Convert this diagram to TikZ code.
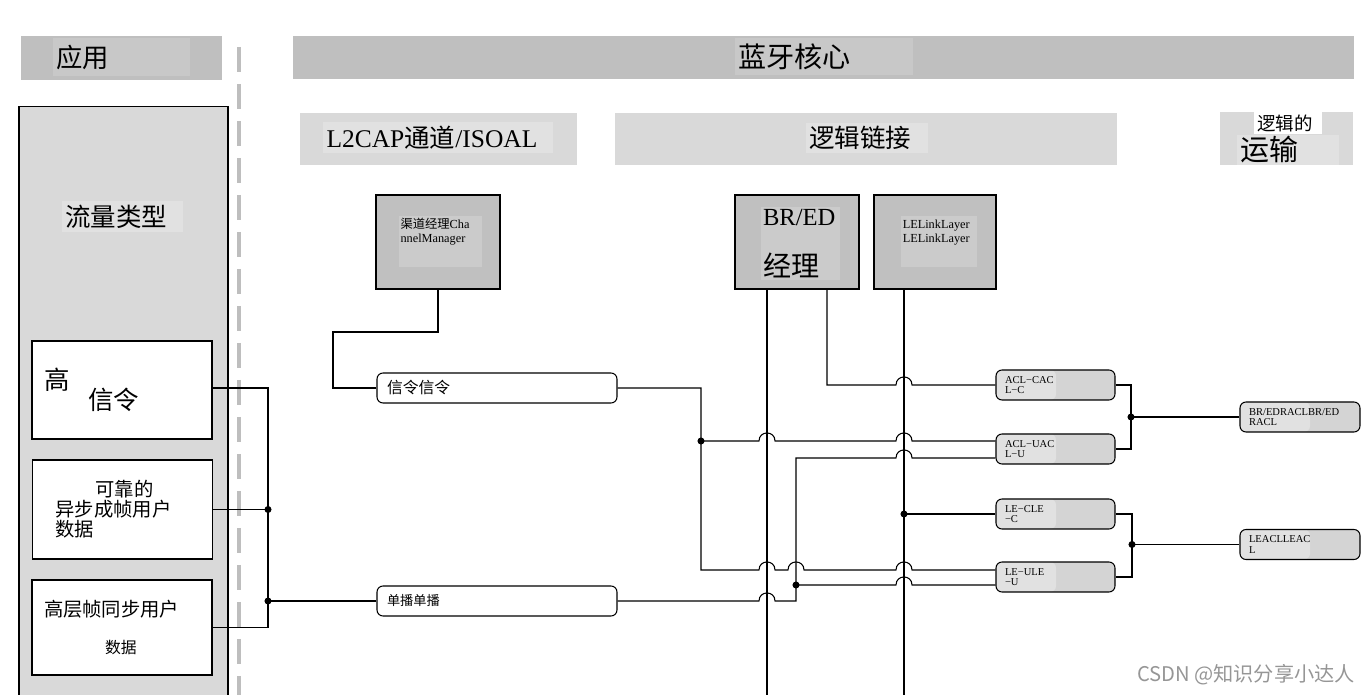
\documentclass[tikz,border=0pt]{standalone}
\usepackage{fontspec}
\setmainfont{Liberation Serif}
\newfontfamily\cjk{Noto Sans CJK SC}
\usepackage{tikz}
\usepackage{xcolor}
\definecolor{BarDark}{RGB}{191,191,191}
\definecolor{BarDarkLbl}{RGB}{200,200,200}
\definecolor{BarLight}{RGB}{217,217,217}
\definecolor{BarLightLbl}{RGB}{225,225,225}
\definecolor{BoxGray}{RGB}{192,192,192}
\definecolor{BoxGrayLbl}{RGB}{203,203,203}
\definecolor{PipeGray}{RGB}{212,212,212}
\definecolor{PipeLbl}{RGB}{225,225,225}
\definecolor{DashGray}{RGB}{190,190,190}
\definecolor{MarkGray}{RGB}{150,150,150}
\newcommand{\hop}[2]{-- (#1-8,#2) .. controls (#1-8,#2-10.7) and (#1+8,#2-10.7) .. (#1+8,#2)}

\begin{document}
\begin{tikzpicture}[x=0.02cm,y=-0.02cm,
  band/.style={fill=#1,inner sep=0},
  lbl/.style={fill=#1,inner xsep=2pt,inner ysep=0,align=left},
  unit/.style={draw=black,line width=1pt,fill=BoxGray,minimum width=2.48cm,
               minimum height=1.88cm,inner sep=0},
  tag/.style={fill=BoxGrayLbl,inner xsep=1pt,inner ysep=0,text width=#1,align=left,
              font=\fontsize{7}{7.8}\selectfont},
  flow/.style={draw=black,line width=0.8pt,fill=white,minimum width=3.6cm,
               inner xsep=0.24cm,text width=3.12cm,align=left},
  pipe/.style={draw=black,line width=0.6pt,fill=white,rounded corners=0.12cm,
               minimum width=4.8cm,minimum height=0.6cm,inner xsep=0.2cm,
               text width=4.4cm,align=left},
  link/.style={draw=black,line width=0.6pt,fill=PipeGray,rounded corners=0.12cm,
               minimum width=2.38cm,minimum height=0.6cm,inner xsep=0.18cm,
               text width=2.02cm,align=left,font=\fontsize{6}{6}\selectfont,
               path picture={\fill[PipeLbl] (path picture bounding box.south west)
                 rectangle ([xshift=#1]path picture bounding box.north west);}},
  link/.default=1.2cm,
  wire/.style={line width=0.6pt},
]
\useasboundingbox (0,0) rectangle (1367,695);

\node[band=BarDark,minimum width=4.02cm,minimum height=0.88cm] (appbar) at (121.5,58) {};
\node[lbl=BarDarkLbl,text width=2.6cm,minimum height=0.76cm,font=\cjk\fontsize{15}{18}\selectfont] (applbl) at (121.5,57) {应用};
\node[band=BarDark,minimum width=21.22cm,minimum height=0.86cm] (corebar) at (823.5,57.5) {};
\node[lbl=BarDarkLbl,text width=3.42cm,minimum height=0.74cm,font=\cjk\fontsize{16}{18}\selectfont] (corelbl) at (824,56.5) {蓝牙核心};
\draw[DashGray,line width=2pt,dash pattern=on 0.5cm off 0.24cm] (239,47) -- (239,695);

\node[draw=black,line width=0.8pt,fill=BarLight,minimum width=4.18cm,minimum height=11.98cm,inner sep=0] (flowbox) at (123.5,406) {};
\node[lbl=BarLightLbl,text width=2.28cm,minimum height=0.62cm,font=\cjk\fontsize{14.5}{16}\selectfont] (flowlbl) at (122.5,216.5) {流量类型};
\node[flow,minimum height=1.96cm,font=\cjk\fontsize{14.5}{11}\selectfont] (sigbox) at (122,390) {高\\[-3pt]\hspace*{0.88cm}信令};
\node[flow,minimum height=1.98cm,font=\cjk\fontsize{11}{11.4}\selectfont] (asyncbox) at (122.5,509.5) {\hspace*{1.02cm}可靠的\\\hspace*{0.22cm}异步成帧用户\\\hspace*{0.22cm}数据};
\node[flow,minimum height=1.9cm,font=\cjk\fontsize{11}{13}\selectfont] (isobox) at (122,627.5) {高层帧同步用户\\[8pt]{\fontsize{9}{11}\selectfont\hspace*{1.22cm}数据}};

\node[band=BarLight,minimum width=5.54cm,minimum height=1.04cm] (l2capbar) at (438.5,139) {};
\node[lbl=BarLightLbl,text width=4.46cm,minimum height=0.62cm,font=\fontsize{14.5}{16}\selectfont] (l2caplbl) at (438,137.5) {L2CAP{\cjk 通道}/ISOAL};
\node[band=BarLight,minimum width=10.04cm,minimum height=1.04cm] (linkbar) at (866,139) {};
\node[lbl=BarLightLbl,text width=2.3cm,minimum height=0.6cm,font=\cjk\fontsize{14.5}{16}\selectfont] (linklbl) at (867,138) {逻辑链接};
\node[band=BarLight,minimum width=2.66cm,minimum height=1.06cm] (transbar) at (1286.5,138.5) {};
\node[lbl=white,text width=1.22cm,minimum height=0.44cm,font=\cjk\fontsize{10.5}{12}\selectfont] (translbl) at (1288,123) {逻辑的};
\node[lbl=BarLightLbl,text width=1.9cm,minimum height=0.6cm,font=\cjk\fontsize{16.5}{18}\selectfont] (transsub) at (1288,150) {运输};

\node[unit] (cmbox) at (438,242) {};
\node[tag=1.6cm,text height=0.26cm,text depth=0.76cm] (cmtag) at (440.5,241.5) {{\cjk 渠道经理}Cha\\nnelManager};
\node[unit] (brbox) at (797,242) {};
\node[tag=1.5cm,minimum height=1.46cm,font=\fontsize{14}{16}\selectfont] (brtag) at (800.5,243.5) {BR/ED\\[13pt]{\cjk\fontsize{16}{16}\selectfont 经理}};
\node[unit,minimum width=2.44cm] (lebox) at (935,242) {};
\node[tag=1.45cm,text height=0.26cm,text depth=0.76cm] (letag) at (939,241.5) {LELinkLayer\\LELinkLayer};

\node[pipe,font=\cjk\fontsize{9}{11}\selectfont] (sigpipe) at (497,388) {信令信令};
\node[pipe,font=\cjk\fontsize{7.5}{9}\selectfont] (ucpipe) at (497,601) {单播单播};

\node[link] (aclc) at (1055.5,385) {ACL−CAC\\L−C};
\node[link] (aclu) at (1055.5,449) {ACL−UAC\\L−U};
\node[link] (lec) at (1055.5,514) {LE−CLE\\−C};
\node[link] (leu) at (1055.5,577) {LE−ULE\\−U};
\node[link=1.4cm,minimum width=2.4cm,text width=2.04cm] (bracl) at (1300,417) {BR/EDRACLBR/ED\\RACL};
\node[link=1.4cm,minimum width=2.4cm,text width=2.04cm] (leacl) at (1300,544.5) {LEACLLEAC\\L};

\coordinate (j1) at (268,509.5);
\coordinate (j2) at (268,601);
\coordinate (c1) at (333,332);
\coordinate (j3) at (701,441);
\coordinate (c3) at (701,570);
\coordinate (c4) at (796,458);
\coordinate (j5) at (796,585);
\coordinate (c5) at (796,601);
\coordinate (brv) at (767,700);
\coordinate (c2) at (827,385);
\coordinate (lev) at (904,700);
\coordinate (j6) at (904,514);
\coordinate (j7) at (1131,417);
\coordinate (j8) at (1132,544.5);

\draw[wire] (sigbox.east |- 0,388) -| (j2) |- (isobox.east);
\draw[wire] (asyncbox.east) -- (j1);
\draw[wire] (j2) -- (ucpipe.west);
\draw[wire] (cmbox.south) |- (c1) |- (sigpipe.west);
\draw[wire] (brv |- brbox.south) -- (brv);
\draw[wire] (lev |- lebox.south) -- (lev);
\draw[wire] (c2 |- brbox.south) -- (c2) \hop{904}{385} -- (aclc.west);
\draw[wire] (sigpipe.east) -| (c3) \hop{767}{570} \hop{796}{570} \hop{904}{570} -- (leu.west |- c3);
\draw[wire] (j3) \hop{767}{441} \hop{904}{441} -- (aclu.west |- j3);
\draw[wire] (ucpipe.east) \hop{767}{601} -- (c5) -- (c4) \hop{904}{458} -- (aclu.west |- c4);
\draw[wire] (j5) \hop{904}{585} -- (leu.west |- j5);
\draw[wire] (j6) -- (lec.west);
\draw[wire] (aclc.east) -| (j7) |- (aclu.east);
\draw[wire] (j7) -- (bracl.west);
\draw[wire] (lec.east) -| (j8) |- (leu.east);
\draw[wire] (j8) -- (leacl.west);
\foreach \j in {j1,j2,j3,j5,j6,j7,j8}
  \fill (\j) circle[radius=2pt];

\node[font=\cjk\fontsize{11.5}{14}\selectfont,text=MarkGray,inner sep=0] (mark) at (1246,675) {CSDN @知识分享小达人};
\end{tikzpicture}
\end{document}
